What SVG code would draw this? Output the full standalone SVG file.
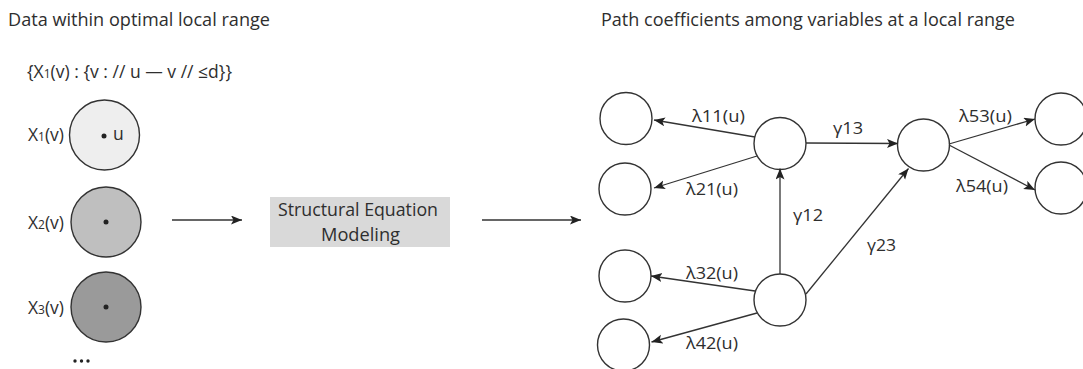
<svg xmlns="http://www.w3.org/2000/svg" width="1083" height="369" viewBox="0 0 1083 369">
<style>
text{font-family:"Open Sans","Liberation Sans",sans-serif;fill:#2e2e2e;}
.t{font-size:17.5px;}
.l{font-size:17px;}
.c{fill:#fff;stroke:#333;stroke-width:1.4;}
.e{stroke:#333;stroke-width:1.3;fill:none;marker-end:url(#ah);}
</style>
<defs>
<marker id="ah" markerUnits="userSpaceOnUse" markerWidth="12" markerHeight="10" refX="11" refY="4.5" orient="auto">
<path d="M0,0 L11,4.5 L0,9 L2.5,4.5 Z" fill="#222"/>
</marker>
</defs>
<rect width="1083" height="369" fill="#fff"/>

<text class="t" x="8" y="26" textLength="262" lengthAdjust="spacingAndGlyphs">Data within optimal local range</text>
<text class="t" x="601" y="26" textLength="414" lengthAdjust="spacingAndGlyphs">Path coefficients among variables at a local range</text>
<text class="t" x="27" y="78" textLength="205" lengthAdjust="spacingAndGlyphs">{X<tspan font-size="12">1</tspan>(v) : {v : // u — v // ≤d}}</text>

<g id="x1">
<text class="t" x="28" y="141" textLength="36" lengthAdjust="spacingAndGlyphs">X<tspan font-size="12">1</tspan>(v)</text>
<circle cx="104.5" cy="135" r="35" fill="#eeeeee" stroke="#333" stroke-width="1.4"/>
<circle cx="104" cy="136" r="2.5" fill="#222"/>
<text class="t" x="113" y="140">u</text>
</g>
<g id="x2">
<text class="t" x="28" y="229" textLength="36" lengthAdjust="spacingAndGlyphs">X<tspan font-size="12">2</tspan>(v)</text>
<circle cx="106" cy="222" r="35" fill="#bfbfbf" stroke="#333" stroke-width="1.4"/>
<circle cx="106" cy="222" r="2.5" fill="#222"/>
</g>
<g id="x3">
<text class="t" x="28" y="314" textLength="36" lengthAdjust="spacingAndGlyphs">X<tspan font-size="12">3</tspan>(v)</text>
<circle cx="106" cy="307" r="35" fill="#9a9a9a" stroke="#333" stroke-width="1.4"/>
<circle cx="106" cy="307" r="2.5" fill="#222"/>
</g>
<g id="more">
<circle cx="75" cy="361" r="1.7" fill="#222"/>
<circle cx="81.5" cy="361" r="1.7" fill="#222"/>
<circle cx="88" cy="361" r="1.7" fill="#222"/>
</g>

<g id="sem">
<rect x="270" y="197" width="180" height="50" fill="#d9d9d9"/>
<text class="t" x="278" y="216" textLength="160" lengthAdjust="spacingAndGlyphs">Structural Equation</text>
<text class="t" x="321" y="241" textLength="79" lengthAdjust="spacingAndGlyphs">Modeling</text>
</g>

<g id="nA"><circle class="c" cx="626" cy="118.5" r="26"/></g>
<g id="nB"><circle class="c" cx="625" cy="189" r="26"/></g>
<g id="nC"><circle class="c" cx="625" cy="276" r="26"/></g>
<g id="nD"><circle class="c" cx="623.5" cy="345" r="26"/></g>
<g id="h1"><circle class="c" cx="780" cy="143.5" r="26"/></g>
<g id="h2"><circle class="c" cx="923.5" cy="145" r="26"/></g>
<g id="h3"><circle class="c" cx="780" cy="300" r="26"/></g>
<g id="nR1"><circle class="c" cx="1061" cy="119" r="26"/></g>
<g id="nR2"><circle class="c" cx="1061" cy="188" r="26"/></g>

<g id="connectors">
<line class="e" x1="172" y1="220" x2="242" y2="220"/>
<line class="e" x1="482" y1="220" x2="581" y2="220"/>
<line class="e" x1="755" y1="137" x2="654" y2="120"/>
<line class="e" x1="757" y1="156" x2="654" y2="188"/>
<line class="e" x1="806" y1="143" x2="898" y2="143.5"/>
<line class="e" x1="949" y1="144" x2="1035" y2="119"/>
<line class="e" x1="949" y1="145" x2="1035" y2="190"/>
<line class="e" x1="780" y1="274" x2="780" y2="168.5"/>
<line class="e" x1="806" y1="294" x2="908.5" y2="168.5"/>
<line class="e" x1="755" y1="291" x2="651" y2="276"/>
<line class="e" x1="757" y1="313" x2="651.5" y2="342"/>
</g>

<g id="labels">
<text class="l" x="692" y="122" textLength="53" lengthAdjust="spacingAndGlyphs">λ11(u)</text>
<text class="l" x="686" y="195" textLength="52" lengthAdjust="spacingAndGlyphs">λ21(u)</text>
<text class="l" x="833" y="134" textLength="30" lengthAdjust="spacingAndGlyphs">γ13</text>
<text class="l" x="959" y="122" textLength="53" lengthAdjust="spacingAndGlyphs">λ53(u)</text>
<text class="l" x="956" y="192" textLength="52" lengthAdjust="spacingAndGlyphs">λ54(u)</text>
<text class="l" x="793" y="221" textLength="30" lengthAdjust="spacingAndGlyphs">γ12</text>
<text class="l" x="867" y="251" textLength="29" lengthAdjust="spacingAndGlyphs">γ23</text>
<text class="l" x="686" y="279" textLength="52" lengthAdjust="spacingAndGlyphs">λ32(u)</text>
<text class="l" x="686" y="349" textLength="52" lengthAdjust="spacingAndGlyphs">λ42(u)</text>
</g>
</svg>
